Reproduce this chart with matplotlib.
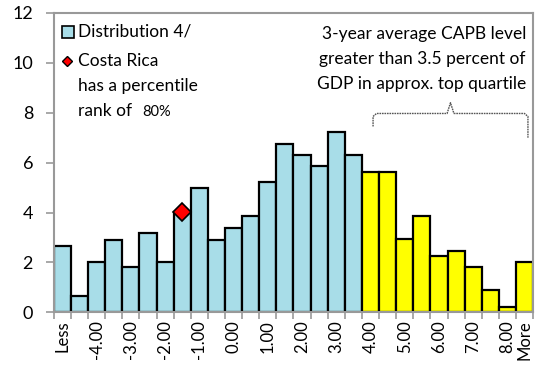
import matplotlib
matplotlib.use("Agg")
import matplotlib.pyplot as plt
import numpy as np

# Histogram bins (percent of observations per CAPB bin)
bins = ["Less", "-4.50", "-4.00", "-3.50", "-3.00", "-2.50", "-2.00", "-1.50",
        "-1.00", "-0.50", "0.00", "0.50", "1.00", "1.50", "2.00", "2.50",
        "3.00", "3.50", "4.00", "4.50", "5.00", "5.50", "6.00", "6.50",
        "7.00", "7.50", "8.00", "More"]
shares = [2.67, 0.65, 2.0, 2.9, 1.8, 3.16, 2.0, 4.03, 4.97, 2.9, 3.36, 3.84,
          5.21, 6.75, 6.32, 5.87, 7.23, 6.32, 5.63, 5.63, 2.92, 3.84, 2.25,
          2.47, 1.8, 0.88, 0.22, 2.0]
shown_labels = ["Less", "", "-4.00", "", "-3.00", "", "-2.00", "", "-1.00", "",
                "0.00", "", "1.00", "", "2.00", "", "3.00", "", "4.00", "",
                "5.00", "", "6.00", "", "7.00", "", "8.00", "More"]
top_quartile_from = "4.00"
country_bin = "-1.50"
country_name = "Costa Rica"
country_rank = "80%"
yticks = [0, 2, 4, 6, 8, 10, 12]

FONT = "Lato"
plt.rcParams["font.family"] = [FONT, "DejaVu Sans"]

fig = plt.figure(figsize=(5.39, 3.70), dpi=100)
ax = fig.add_axes([0.1, 0.156, 0.889, 0.809])

x = np.arange(len(bins))
start = bins.index(top_quartile_from)
colors = ["#A8DDE8" if i < start else "#FFFF00" for i in range(len(bins))]
ax.bar(x, shares, width=1.0, color=colors, edgecolor="black", linewidth=1.6,
       zorder=2)

ci = bins.index(country_bin)
ax.plot([x[ci]], [shares[ci]], marker="D", markersize=9, color="#FF0000",
        markeredgecolor="black", markeredgewidth=1.2, zorder=4, clip_on=False)

ax.set_xlim(-0.5, len(bins) - 0.5)
ax.set_ylim(0, 12)
ax.set_yticks(yticks)
ax.set_yticklabels([str(v) for v in yticks], fontsize=13)
ax.set_xticks(x)
ax.set_xticklabels(shown_labels, rotation=90, fontsize=12)
ax.set_xticks(np.arange(len(bins) + 1) - 0.5, minor=True)
ax.tick_params(axis="x", which="major", length=0, pad=6)
ax.tick_params(axis="x", which="minor", length=5, width=1.2, color="#999999",
               direction="out")
ax.tick_params(axis="y", length=6, width=1.2, color="#999999", pad=9)
for s in ax.spines.values():
    s.set_color("#999999")
    s.set_linewidth(1.5)

# Legend drawn by hand
ax.plot([0.03], [0.938], transform=ax.transAxes, marker="s", markersize=8,
        color="#A8DDE8", markeredgecolor="black", markeredgewidth=1.2,
        clip_on=False)
ax.text(0.05, 0.938, "Distribution 4/", transform=ax.transAxes, fontsize=12.5,
        va="center", ha="left")
ax.plot([0.028], [0.838], transform=ax.transAxes, marker="D", markersize=5.5,
        color="#FF0000", markeredgecolor="black", markeredgewidth=1.0,
        clip_on=False)
ax.text(0.05, 0.838, country_name, transform=ax.transAxes, fontsize=12.5,
        va="center", ha="left")
ax.text(0.05, 0.755, "has a percentile", transform=ax.transAxes,
        fontsize=12.5, va="center", ha="left")
ax.text(0.05, 0.672, "rank of", transform=ax.transAxes, fontsize=12.5,
        va="center", ha="left")
ax.text(0.184, 0.668, country_rank, transform=ax.transAxes, fontsize=10.5,
        va="center", ha="left")

ax.text(0.985, 0.93, "3-year average CAPB level", transform=ax.transAxes,
        fontsize=12.5, va="center", ha="right")
ax.text(0.985, 0.847, "greater than 3.5 percent of", transform=ax.transAxes,
        fontsize=12.5, va="center", ha="right")
ax.text(0.985, 0.764, "GDP in approx. top quartile", transform=ax.transAxes,
        fontsize=12.5, va="center", ha="right")

# Curly brace over the top-quartile bins
xl, xr = start + 0.15, len(bins) - 1 + 0.2
xm = (xl + xr) / 2
yb = 7.97
brace_x = [xl, xl, xl + 0.2, xm - 0.2, xm, xm + 0.2, xr - 0.2, xr, xr]
brace_y = [7.45, 7.85, yb, yb, 8.4, yb, yb, 7.85, 7.0]
ax.plot(brace_x, brace_y, color="#555555", linewidth=1.0,
        linestyle=(0, (1.2, 0.6)), zorder=3)

fig.savefig("out.png", dpi=100)
